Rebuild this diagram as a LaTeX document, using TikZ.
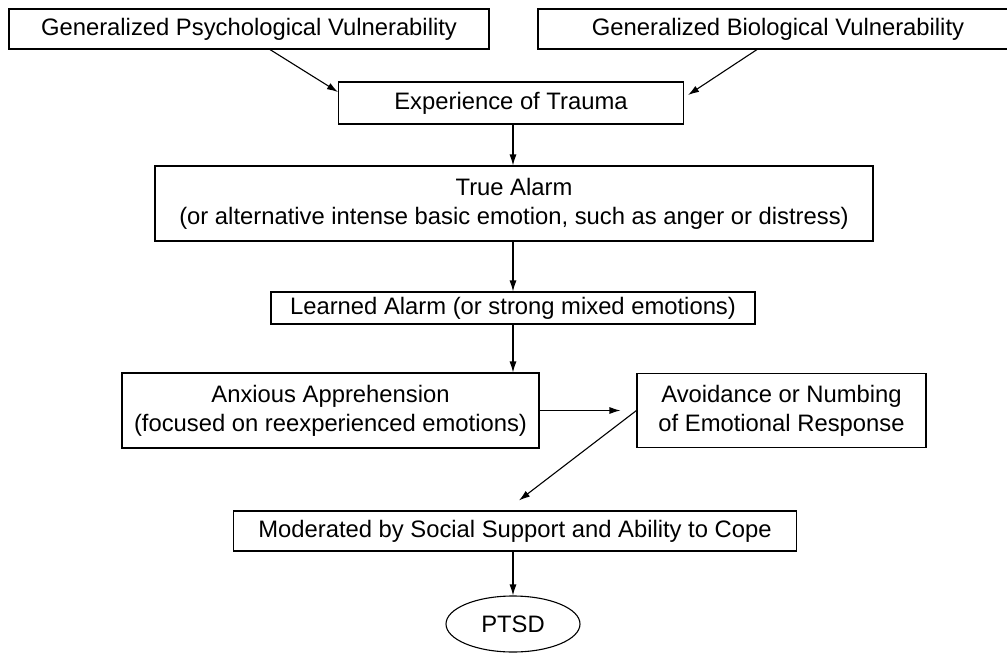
\documentclass[tikz,border=0pt]{standalone}
\usepackage{fontspec}
\setmainfont{Liberation Sans}
\usetikzlibrary{shapes.geometric}
\usetikzlibrary{arrows.meta}

\begin{document}
\begin{tikzpicture}[x=1pt,y=-1pt,
	box/.style={draw,line width=1.1pt,inner sep=0pt,align=center,
		font=\fontsize{23.8}{29}\selectfont},
	arr/.style={line width=1.1pt,-{Latex[length=11pt,width=7pt]}}]
	\useasboundingbox (0,0) rectangle (1007,654);
	% boxes
	\node[box,minimum width=480,minimum height=40] (psych) at (249,29) {Generalized Psychological Vulnerability};
	\node[box,minimum width=480,minimum height=40] (bio) at (778,29) {Generalized Biological Vulnerability};
	\node[box,minimum width=345,minimum height=42] (trauma) at (511,103) {Experience of Trauma};
	\node[box,minimum width=718,minimum height=75] (alarm) at (514,203.5) {True Alarm\\(or alternative intense basic emotion, such as anger or distress)};
	\node[box,minimum width=484,minimum height=32] (learned) at (513,308) {Learned Alarm (or strong mixed emotions)};
	\node[box,minimum width=417,minimum height=75] (anxious) at (330.5,410.5) {Anxious Apprehension\\(focused on reexperienced emotions)};
	\node[box,minimum width=289,minimum height=74] (avoid) at (781.5,410.5) {Avoidance or Numbing\\of Emotional Response};
	\node[box,minimum width=563,minimum height=40] (cope) at (515,531) {Moderated by Social Support and Ability to Cope};
	\node[box,ellipse,minimum width=134,minimum height=56] (ptsd) at (513,624) {PTSD};
	% arrows
	\draw[arr] ([xshift=21pt]psych.south) -- ([yshift=11pt]trauma.west);
	\draw[arr] ([xshift=-21pt]bio.south) -- ([xshift=4pt,yshift=8pt]trauma.east);
	\draw[arr] ([xshift=2pt]trauma.south) -- ([xshift=2pt]trauma.south |- alarm.north);
	\draw[arr] ([xshift=-1pt]alarm.south) -- ([xshift=-1pt]alarm.south |- learned.north);
	\draw[arr] (learned.south) -- (learned.south |- anxious.north);
	\draw[arr] (anxious.east) -- ([xshift=-16pt]avoid.west);
	\draw[arr] (avoid.west) -- ([xshift=4pt,yshift=10pt]cope.north);
	\draw[arr] ([xshift=-2pt]cope.south) -- ([xshift=-2pt]cope.south |- ptsd.north);
\end{tikzpicture}
\end{document}
